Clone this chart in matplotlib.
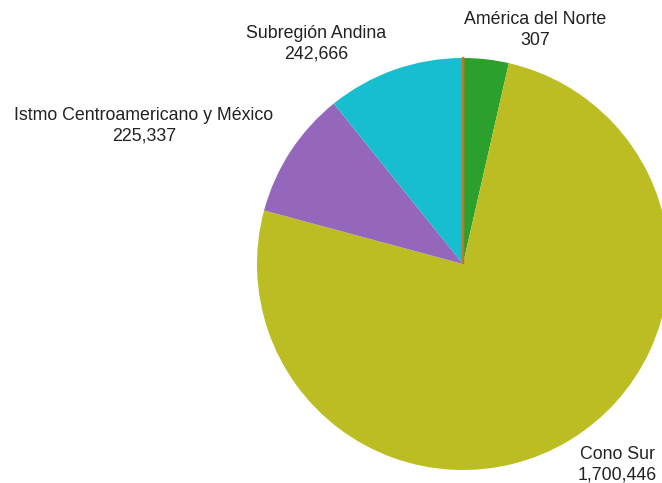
import matplotlib
matplotlib.use('agg')
from matplotlib import pyplot as plt

# datos por subregión (orden horario desde arriba)
regions = ['América del Norte', 'Caribe', 'Cono Sur',
           'Istmo Centroamericano y México', 'Subregión Andina']
values = [307, 80000, 1700446, 225337, 242666]
value_labels = ['307', '', '1,700,446', '225,337', '242,666']
colors = ['#ff7f0e', '#2ca02c', '#bcbd22', '#9467bd', '#17becf']
show_label = [True, False, True, True, True]

# posiciones de las etiquetas (pixeles desde arriba-izquierda)
label_pos = [(535, 30), None, (617, 465), (144, 126), (316, 44)]

W, H = 662, 483
fig = plt.figure(figsize=(W / 100, H / 100), dpi=100)
ax = fig.add_axes([0, 0, 1, 1])

_cx, _cy, _r = 463, H - 264, 206
_wedges, _ = ax.pie(values, colors=colors, startangle=90, counterclock=False,
                    center=(_cx, _cy), radius=_r, frame=True,
                    wedgeprops={'linewidth': 0})
# el sector de América del Norte es muy fino: se marca con un borde
_wedges[0].set_edgecolor('#c8731e')
_wedges[0].set_linewidth(1.6)
_wedges[0].set_zorder(5)

ax.set_xlim(0, W)
ax.set_ylim(0, H)
ax.set_aspect('equal')
ax.axis('off')

for _i, _name in enumerate(regions):
    if not show_label[_i]:
        continue
    _x, _y = label_pos[_i]
    ax.text(_x, H - _y, '%s\n%s' % (_name, value_labels[_i]),
            ha='center', va='center', multialignment='center',
            fontsize=12.8, color='#222222', family=['Liberation Sans', 'DejaVu Sans'],
            linespacing=1.25)

fig.savefig('out.png', dpi=100)
